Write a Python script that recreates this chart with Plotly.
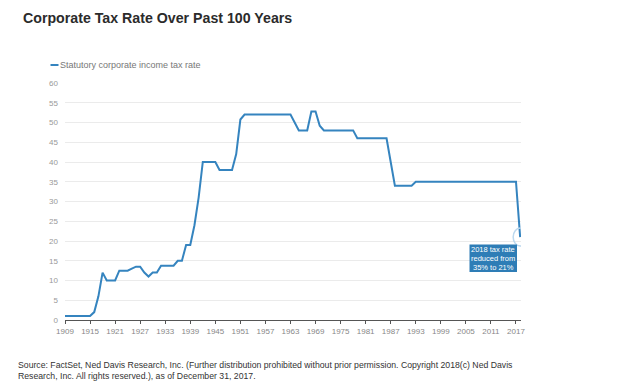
import plotly.graph_objects as go

years = list(range(1909, 2019))
rate_by_year = {}
segments = [
    (1909, 1915, 1.0), (1916, 1916, 2.0), (1917, 1917, 6.0), (1918, 1918, 12.0),
    (1919, 1921, 10.0), (1922, 1924, 12.5), (1925, 1925, 13.0), (1926, 1927, 13.5),
    (1928, 1928, 12.0), (1929, 1929, 11.0), (1930, 1931, 12.0), (1932, 1935, 13.75),
    (1936, 1937, 15.0), (1938, 1939, 19.0), (1940, 1940, 24.0), (1941, 1941, 31.0),
    (1942, 1945, 40.0), (1946, 1949, 38.0), (1950, 1950, 42.0), (1951, 1951, 50.75),
    (1952, 1963, 52.0), (1964, 1964, 50.0), (1965, 1967, 48.0), (1968, 1969, 52.8),
    (1970, 1970, 49.2), (1971, 1978, 48.0), (1979, 1986, 46.0), (1987, 1987, 40.0),
    (1988, 1992, 34.0), (1993, 2017, 35.0), (2018, 2018, 21.0),
]
for a, b, v in segments:
    for y in range(a, b + 1):
        rate_by_year[y] = v
rates = [rate_by_year[y] for y in years]

x_ticks = list(range(1909, 2018, 6))
y_ticks = list(range(0, 61, 5))

title = "Corporate Tax Rate Over Past 100 Years"
series_name = "Statutory corporate income tax rate"
note_lines = ["2018 tax rate", "reduced from", "35% to 21%"]
source = ("Source: FactSet, Ned Davis Research, Inc. (Further distribution prohibited without prior permission. "
          "Copyright 2018(c) Ned Davis<br>Research, Inc. All rights reserved.), as of December 31, 2017.")

LINE = "#3584bf"
BOX = "#2e7db6"
FONT = "Liberation Sans"

OFF = 8  # browser body margin
FW, FH = 628 - OFF, 392 - OFF
# plot area in page pixels
L, R, T, B = 65, 521, 83, 320
W, H = R - L, B - T


def px(xp):
    return (xp - L) / W


def py(yp):
    return (B - yp) / H


fig = go.Figure()
fig.add_trace(go.Scatter(x=years, y=rates, mode="lines", name=series_name,
                         line=dict(color=LINE, width=2), showlegend=False))

fig.update_layout(
    width=FW, height=FH,
    margin=dict(l=L - OFF, r=628 - R, t=T - OFF, b=392 - B),
    paper_bgcolor="white", plot_bgcolor="white",
    font=dict(family=FONT, color="#333333"),
    xaxis=dict(range=[1909, 2018.2], tickvals=x_ticks, showgrid=False,
               showline=True, linecolor="#555555", linewidth=1,
               ticks="outside", ticklen=3, tickcolor="#555555",
               tickfont=dict(size=8, color="#888888"), zeroline=False),
    yaxis=dict(range=[0, 60], tickvals=y_ticks, showgrid=True, gridcolor="#ebebeb", gridwidth=1.2,
               zeroline=False, showline=False, ticks="", ticklabelstandoff=6,
               tickfont=dict(size=8, color="#999999")),
    showlegend=False,
)

# highlight ellipse around the last data point
fig.add_shape(type="circle", xref="x", yref="y", xsizemode="pixel", ysizemode="pixel",
              xanchor=years[-1], yanchor=rates[-1], x0=-7, x1=7, y0=-9, y1=9,
              line=dict(color="#bcd8ee", width=1.5), fillcolor="rgba(0,0,0,0)")

fig.add_annotation(xref="paper", yref="paper", x=px(21), y=py(18), xanchor="left", yanchor="middle",
                   text="<b>" + title + "</b>", showarrow=False,
                   font=dict(size=14.2, color="#2b2b2b", family=FONT))

fig.add_shape(type="line", xref="paper", yref="paper", x0=px(50.5), x1=px(58.5), y0=py(65), y1=py(65),
              line=dict(color=LINE, width=2))
fig.add_annotation(xref="paper", yref="paper", x=px(58), y=py(65), xanchor="left", yanchor="middle",
                   text=series_name, showarrow=False, font=dict(size=9, color="#777777"))

# note box
fig.add_shape(type="rect", xref="paper", yref="paper", x0=px(469.5), x1=px(517), y0=py(272), y1=py(244.5),
              line=dict(width=0), fillcolor=BOX, layer="above")
for i, ln in enumerate(note_lines):
    fig.add_annotation(xref="paper", yref="paper", x=px(493.3), y=py(249.5 + 9 * i),
                       xanchor="center", yanchor="middle", text=ln, showarrow=False,
                       font=dict(size=7.5, color="white"))

fig.add_annotation(xref="paper", yref="paper", x=px(16), y=py(358), xanchor="left", yanchor="top",
                   text=source, showarrow=False, align="left",
                   font=dict(size=8.7, color="#333333"))

fig.write_html("out.html")
